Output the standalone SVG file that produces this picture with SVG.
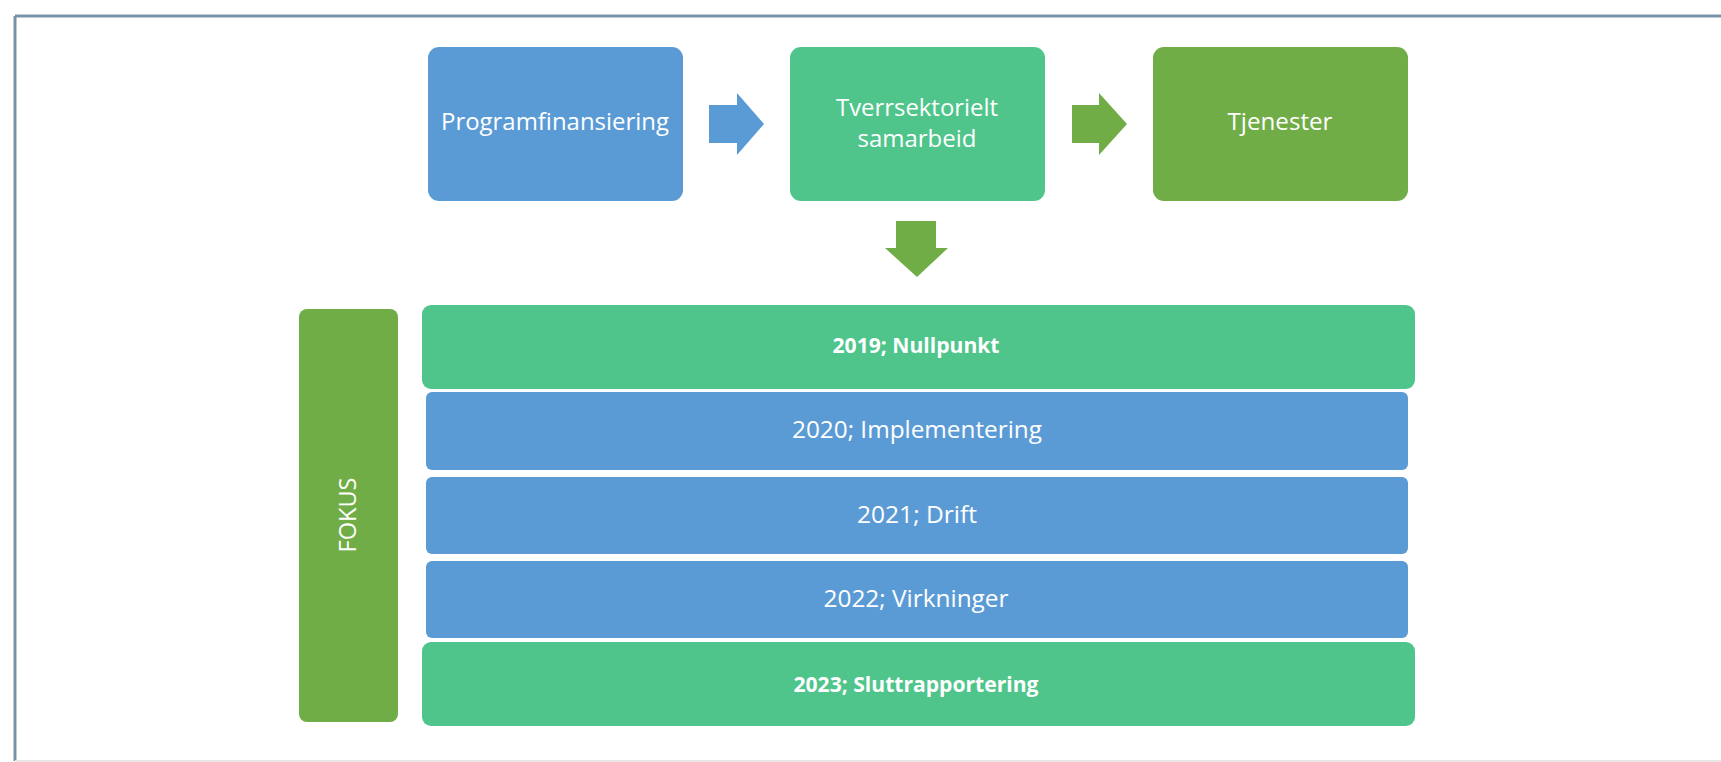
<svg xmlns="http://www.w3.org/2000/svg" width="1721" height="762" viewBox="0 0 1721 762">
<style>
.blue{fill:#5b9bd5}
.teal{fill:#4fc58c}
.green{fill:#70ad47}
.t{font-family:"Open Sans","Noto Sans","Liberation Sans",sans-serif;fill:#ffffff;font-size:24px;text-anchor:middle}
.b{font-weight:bold;font-size:21px}
</style>
<rect x="0" y="0" width="1721" height="762" fill="#ffffff"/>
<g id="frame">
<line x1="15" y1="16" x2="1721" y2="16" stroke="#7b93a7" stroke-width="3"/>
<line x1="15" y1="16" x2="15" y2="761" stroke="#7b93a7" stroke-width="3"/>
<line x1="15" y1="761" x2="1721" y2="761" stroke="#e6e6e6" stroke-width="2"/>
</g>
<g id="programfinansiering">
<rect class="blue" x="428" y="47" width="255" height="154" rx="11"/>
<text class="t" x="555" y="130" textLength="228" lengthAdjust="spacingAndGlyphs">Programfinansiering</text>
</g>
<g id="tverrsektorielt">
<rect class="teal" x="790" y="47" width="255" height="154" rx="11"/>
<text class="t" x="917" y="116" textLength="162" lengthAdjust="spacingAndGlyphs">Tverrsektorielt</text>
<text class="t" x="917" y="147">samarbeid</text>
</g>
<g id="tjenester">
<rect class="green" x="1153" y="47" width="255" height="154" rx="11"/>
<text class="t" x="1280" y="130" textLength="105" lengthAdjust="spacingAndGlyphs">Tjenester</text>
</g>
<g id="connectors">
<polygon class="blue" points="709,105 737,105 737,93 764,124 737,155 737,143 709,143"/>
<polygon class="green" points="1072,105 1099,105 1099,93 1127,124 1099,155 1099,143 1072,143"/>
<polygon class="green" points="896,221 936,221 936,248 948,248 917,277 885,248 896,248"/>
</g>
<g id="fokus">
<rect class="green" x="299" y="309" width="99" height="413" rx="8"/>
<text class="t" transform="translate(356,515) rotate(-90)" x="0" y="0" textLength="75" lengthAdjust="spacingAndGlyphs">FOKUS</text>
</g>
<g id="y2019">
<rect class="teal" x="422" y="305" width="993" height="84" rx="9"/>
<text class="t b" x="916" y="353" textLength="167" lengthAdjust="spacingAndGlyphs">2019; Nullpunkt</text>
</g>
<g id="y2020">
<rect class="blue" x="426" y="392" width="982" height="78" rx="6"/>
<text class="t" x="917" y="438" textLength="250" lengthAdjust="spacingAndGlyphs">2020; Implementering</text>
</g>
<g id="y2021">
<rect class="blue" x="426" y="477" width="982" height="77" rx="6"/>
<text class="t" x="917" y="523" textLength="120" lengthAdjust="spacingAndGlyphs">2021; Drift</text>
</g>
<g id="y2022">
<rect class="blue" x="426" y="561" width="982" height="77" rx="6"/>
<text class="t" x="916" y="607" textLength="185" lengthAdjust="spacingAndGlyphs">2022; Virkninger</text>
</g>
<g id="y2023">
<rect class="teal" x="422" y="642" width="993" height="84" rx="9"/>
<text class="t b" x="916" y="692" textLength="245" lengthAdjust="spacingAndGlyphs">2023; Sluttrapportering</text>
</g>
</svg>
